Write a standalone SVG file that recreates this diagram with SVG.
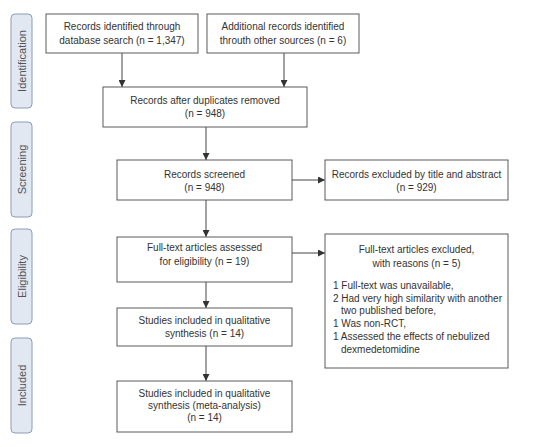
<svg xmlns="http://www.w3.org/2000/svg" width="545" height="447" viewBox="0 0 545 447">
<style>
.box{fill:#fff;stroke:#5a5a5a;stroke-width:1}
.phase{fill:#e1e8f2;stroke:#8c9cb8;stroke-width:1}
text{font-family:"Liberation Sans",Arial,sans-serif;font-size:10px;fill:#333}
.c{text-anchor:middle}
.ph{font-size:11px;fill:#555;text-anchor:middle}
.conn{stroke:#444;stroke-width:1;fill:none;marker-end:url(#ah)}
</style>
<defs>
<marker id="ah" viewBox="0 0 8 8" refX="8" refY="4" markerWidth="7" markerHeight="7" markerUnits="userSpaceOnUse" orient="auto">
<path d="M0,0 L8,4 L0,8 z" fill="#333"/>
</marker>
</defs>
<rect width="545" height="447" fill="#fff"/>
<g id="phase-identification"><rect class="phase" x="11" y="14" width="21" height="94" rx="4"/><text class="ph" transform="translate(25.5,61) rotate(-90)">Identification</text></g>
<g id="phase-screening"><rect class="phase" x="11" y="122" width="21" height="95" rx="4"/><text class="ph" transform="translate(25.5,169.5) rotate(-90)">Screening</text></g>
<g id="phase-eligibility"><rect class="phase" x="11" y="229" width="21" height="95" rx="4"/><text class="ph" transform="translate(25.5,276.5) rotate(-90)">Eligibility</text></g>
<g id="phase-included"><rect class="phase" x="11" y="338" width="21" height="95" rx="4"/><text class="ph" transform="translate(25.5,385.5) rotate(-90)">Included</text></g>

<g id="connectors">
<line class="conn" x1="122" y1="53" x2="122" y2="87"/>
<line class="conn" x1="284" y1="53" x2="284" y2="87"/>
<line class="conn" x1="206" y1="127" x2="206" y2="160"/>
<line class="conn" x1="206" y1="200" x2="206" y2="237"/>
<line class="conn" x1="206" y1="282" x2="206" y2="308"/>
<line class="conn" x1="206" y1="346" x2="206" y2="381"/>
<line class="conn" x1="292" y1="180" x2="325" y2="180"/>
<line class="conn" x1="292" y1="253" x2="325" y2="253"/>
</g>

<g id="n-db"><rect class="box" x="46" y="14" width="152" height="39"/><text class="c" x="122" y="30">Records identified through</text><text class="c" x="122" y="44">database search (n = 1,347)</text></g>
<g id="n-other"><rect class="box" x="207" y="14" width="152" height="39"/><text class="c" x="283" y="30">Additional records identified</text><text class="c" x="283" y="44">throuth other sources (n = 6)</text></g>
<g id="n-dup"><rect class="box" x="103" y="87" width="204" height="40"/><text class="c" x="205" y="104">Records after duplicates removed</text><text class="c" x="205" y="117">(n = 948)</text></g>
<g id="n-screened"><rect class="box" x="117" y="160" width="175" height="40"/><text class="c" x="204.5" y="178">Records screened</text><text class="c" x="204.5" y="191">(n = 948)</text></g>
<g id="n-excl1"><rect class="box" x="325" y="160" width="183" height="40"/><text class="c" x="416.5" y="178">Records excluded by title and abstract</text><text class="c" x="416.5" y="191">(n = 929)</text></g>
<g id="n-fulltext"><rect class="box" x="117" y="237" width="175" height="45"/><text class="c" x="204.5" y="251">Full-text articles assessed</text><text class="c" x="204.5" y="265">for eligibility (n = 19)</text></g>
<g id="n-excl2"><rect class="box" x="325" y="234" width="183" height="134"/><text class="c" x="416.5" y="253">Full-text articles excluded,</text><text class="c" x="416.5" y="267">with reasons (n = 5)</text>
<text x="333" y="289">1 Full-text was unavailable,</text>
<text x="333" y="302">2 Had very high similarity with another</text>
<text x="341" y="314">two published before,</text>
<text x="333" y="327">1 Was non-RCT,</text>
<text x="333" y="340">1 Assessed the effects of nebulized</text>
<text x="341" y="353">dexmedetomidine</text></g>
<g id="n-qual"><rect class="box" x="117" y="308" width="175" height="38"/><text class="c" x="204.5" y="324">Studies included in qualitative</text><text class="c" x="204.5" y="337">synthesis (n = 14)</text></g>
<g id="n-meta"><rect class="box" x="117" y="381" width="175" height="51"/><text class="c" x="204.5" y="397">Studies included in qualitative</text><text class="c" x="204.5" y="409">synthesis (meta-analysis)</text><text class="c" x="204.5" y="421">(n = 14)</text></g>
</svg>
